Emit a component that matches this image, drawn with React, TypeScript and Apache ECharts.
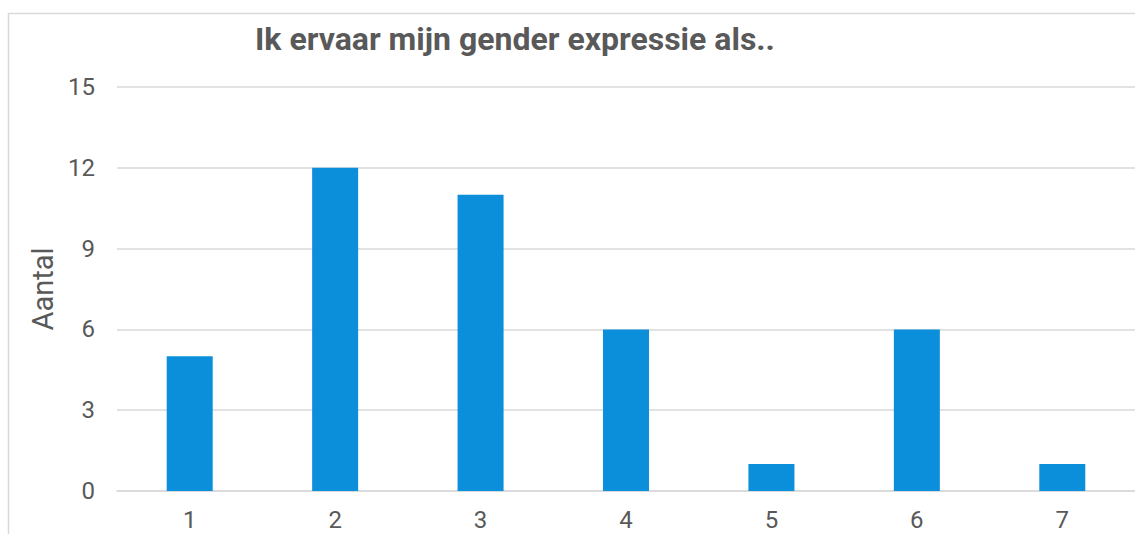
import React, { useEffect, useRef } from "react";
import * as echarts from "echarts";

const categories = ["1", "2", "3", "4", "5", "6", "7"];
const counts = [5, 12, 11, 6, 1, 6, 1];
const titleText = "Ik ervaar mijn gender expressie als..";
const yAxisName = "Aantal";

export default function App() {
  const ref = useRef<HTMLDivElement>(null);
  useEffect(() => {
    const chart = echarts.init(ref.current!, null, { renderer: "svg" });
    chart.setOption({
      animation: false,
      backgroundColor: "#ffffff",
      textStyle: { fontFamily: "Roboto" },
      title: {
        text: titleText,
        left: 250,
        top: 18,
        textStyle: { fontFamily: "Roboto", fontSize: 32, fontWeight: "bold", color: "#595959" },
      },
      graphic: [
        {
          type: "rect",
          shape: { x: 8.5, y: 13.5, width: 1200, height: 600 },
          style: { fill: "none", stroke: "#d9d9d9", lineWidth: 1.5 },
          silent: true,
          z: -1,
        },
      ],
      grid: { left: 117, right: -2, top: 87, bottom: 43, containLabel: false },
      xAxis: {
        type: "category",
        data: categories,
        axisTick: { show: false },
        axisLine: { show: true, lineStyle: { color: "#d9d9d9", width: 1.5 } },
        axisLabel: { color: "#595959", fontSize: 24, fontWeight: 400, margin: 17, fontFamily: "Roboto" },
      },
      yAxis: {
        type: "value",
        min: 0,
        max: 15,
        interval: 3,
        name: yAxisName,
        nameLocation: "middle",
        nameGap: 60,
        nameTextStyle: { color: "#595959", fontSize: 29, fontWeight: 400, fontFamily: "Roboto" },
        axisLine: { show: false },
        axisTick: { show: false },
        axisLabel: { color: "#595959", fontSize: 24, fontWeight: 400, margin: 22, fontFamily: "Roboto" },
        splitLine: { lineStyle: { color: "#d9d9d9", width: 1.5 } },
      },
      series: [
        {
          type: "bar",
          data: counts,
          barWidth: 46,
          itemStyle: { color: "#0c8fdb" },
        },
      ],
    });
    return () => chart.dispose();
  }, []);
  return (
    <div
      ref={ref}
      style={{ position: "fixed", left: 0, top: 0, width: 1135, height: 534 }}
    />
  );
}
